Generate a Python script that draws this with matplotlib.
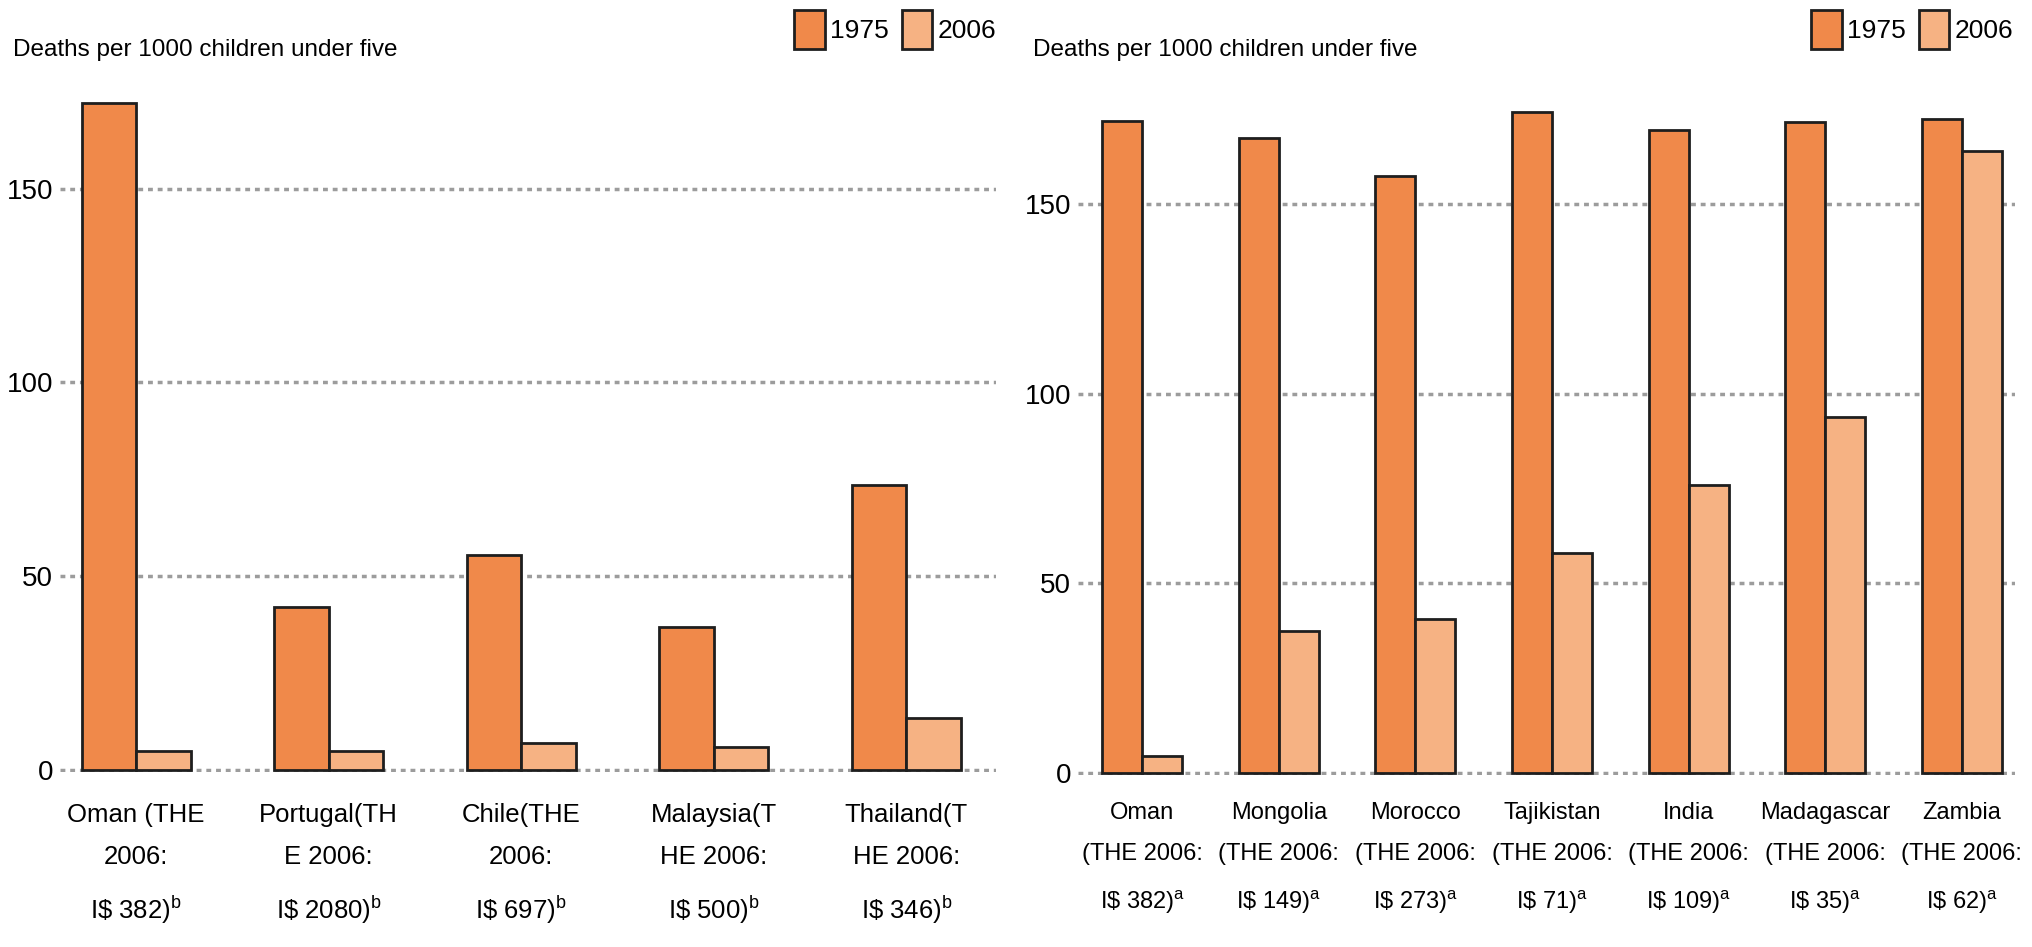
""" Under-five mortality 1975 vs 2006, two panels """

import matplotlib.pyplot as plt
import numpy
from matplotlib.patches import Patch

plt.rcParams['font.family'] = ['Liberation Sans', 'DejaVu Sans']
plt.rcParams['mathtext.fontset'] = 'custom'
plt.rcParams['mathtext.rm'] = 'Liberation Sans'

left_labels = ['Oman (THE\n2006:\nI\\$ 382)$^{\\mathrm{b}}$',
               'Portugal(TH\nE 2006:\nI\\$ 2080)$^{\\mathrm{b}}$',
               'Chile(THE\n2006:\nI\\$ 697)$^{\\mathrm{b}}$',
               'Malaysia(T\nHE 2006:\nI\\$ 500)$^{\\mathrm{b}}$',
               'Thailand(T\nHE 2006:\nI\\$ 346)$^{\\mathrm{b}}$']
left_1975 = [172, 42, 55.5, 37, 73.5]
left_2006 = [5, 5, 7, 6, 13.5]

right_labels = ['Oman\n(THE 2006:\nI\\$ 382)$^{\\mathrm{a}}$',
                'Mongolia\n(THE 2006:\nI\\$ 149)$^{\\mathrm{a}}$',
                'Morocco\n(THE 2006:\nI\\$ 273)$^{\\mathrm{a}}$',
                'Tajikistan\n(THE 2006:\nI\\$ 71)$^{\\mathrm{a}}$',
                'India\n(THE 2006:\nI\\$ 109)$^{\\mathrm{a}}$',
                'Madagascar\n(THE 2006:\nI\\$ 35)$^{\\mathrm{a}}$',
                'Zambia\n(THE 2006:\nI\\$ 62)$^{\\mathrm{a}}$']
right_1975 = [172, 167.5, 157.5, 174.3, 169.5, 171.6, 172.5]
right_2006 = [4.5, 37.5, 40.5, 58, 76, 94, 164]

years = ['1975', '2006']
yticks = [0, 50, 100, 150]

c1975 = '#f0894a'
c2006 = '#f6b283'
edge = '#1e1e1e'
W, H = 2033, 947

fig = plt.figure(figsize=(W/100., H/100.), dpi=100)

def panel(rect, labels, v1975, v2006, width, xlim, title_x, legend_right, lsize, lspace, lpad):
	ax = fig.add_axes(rect)
	x = numpy.arange(len(labels))
	ax.bar(x - width/2, v1975, width, color=c1975, edgecolor=edge, linewidth=2, zorder=3)
	ax.bar(x + width/2, v2006, width, color=c2006, edgecolor=edge, linewidth=2, zorder=3)
	ax.set_xlim(*xlim)
	ax.set_ylim(-0.4, 178)
	ax.set_yticks(yticks)
	ax.set_xticks(x)
	ax.set_xticklabels(labels, fontsize=lsize, linespacing=lspace)
	ax.tick_params(axis='y', length=0, labelsize=20, pad=5)
	ax.tick_params(axis='x', length=0, pad=lpad)
	ax.yaxis.grid(True, linestyle=(0, (1.4, 1.4)), color='#9c9c9c', linewidth=2.5)
	ax.set_axisbelow(True)
	for s in ax.spines.values():
		s.set_visible(False)
	fig.text(title_x/W, 1 - 56./H, 'Deaths per 1000 children under five', fontsize=17.5, va='baseline')
	handles = [Patch(facecolor=c1975, edgecolor=edge, linewidth=2),
	           Patch(facecolor=c2006, edgecolor=edge, linewidth=2)]
	fig.legend(handles, years, loc='upper right', bbox_to_anchor=(legend_right/W, 1 - 10./H),
	           ncol=2, frameon=False, fontsize=19, handlelength=1.15, handleheight=1.9,
	           handletextpad=0.2, columnspacing=0.5, borderaxespad=0, borderpad=0)
	return ax

panel([60./W, 175.5/H, 936./W, 691.5/H], left_labels, left_1975, left_2006,
      0.283, (-0.395, 4.465), 13, 996, 18.5, 1.93, 23)
panel([1078./W, 172.5/H, 937./W, 676.5/H], right_labels, right_1975, right_2006,
      0.293, (-0.47, 6.39), 1033, 2013, 17, 2.1, 20)

plt.savefig('out.png', dpi=100)
